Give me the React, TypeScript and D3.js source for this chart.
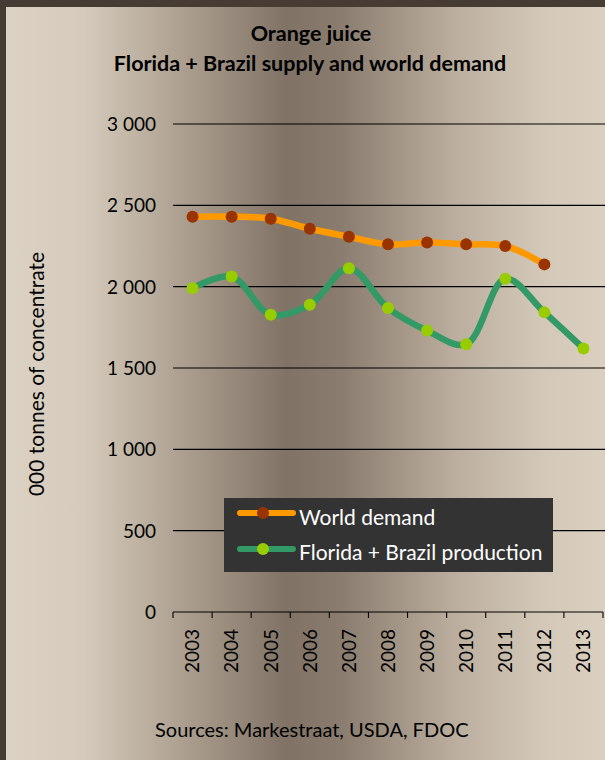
import * as d3 from "d3";

const WIDTH = 605;
const HEIGHT = 760;
const PLOT = { left: 173, right: 603, top: 124, bottom: 612 };

const years = ["2003", "2004", "2005", "2006", "2007", "2008", "2009", "2010", "2011", "2012", "2013"];
const worldDemand = [2430, 2430, 2418, 2356, 2307, 2260, 2272, 2260, 2250, 2137];
const floridaBrazil = [1990, 2062, 1828, 1889, 2113, 1869, 1730, 1646, 2049, 1842, 1620];
const yTicks = [0, 500, 1000, 1500, 2000, 2500, 3000];

const FONT = "Lato, 'Open Sans', sans-serif";

const fmt = d3.formatLocale({
  decimal: ".",
  thousands: " ",
  grouping: [3],
  currency: ["", ""],
}).format(",");

export default function App() {
  const x = d3.scaleBand().domain(years).range([PLOT.left, PLOT.right]).padding(0);
  const y = d3.scaleLinear().domain([0, 3000]).range([PLOT.bottom, PLOT.top]);
  const cx = (yr: string) => (x(yr) ?? 0) + x.bandwidth() / 2;

  const line = d3
    .line<number>()
    .x((_, i) => cx(years[i]))
    .y((d) => y(d))
    .curve(d3.curveCatmullRom.alpha(0.5));

  const tickEdges = years.map((yr) => x(yr) ?? 0).concat([PLOT.right]);

  return (
    <svg
      width={WIDTH}
      height={HEIGHT}
      style={{ position: "absolute", left: 0, top: 0, fontFamily: FONT }}
    >
      <defs>
        <linearGradient id="bg" x1="0" x2="1" y1="0" y2="0">
          <stop offset="0" stopColor="#dcd2c3" />
          <stop offset="0.13" stopColor="#d5cabb" />
          <stop offset="0.3" stopColor="#ab9e8e" />
          <stop offset="0.47" stopColor="#807366" />
          <stop offset="0.56" stopColor="#8a7d6f" />
          <stop offset="0.75" stopColor="#bbae9e" />
          <stop offset="0.9" stopColor="#d4c9b9" />
          <stop offset="1" stopColor="#dbd0c0" />
        </linearGradient>
      </defs>
      <rect x={0} y={0} width={WIDTH} height={HEIGHT} fill="#463c33" />
      <rect x={6} y={7} width={WIDTH - 6} height={HEIGHT - 7} fill="url(#bg)" />

      <text x={311} y={41} textAnchor="middle" fontSize={21.5} fontWeight="bold" fill="#000">
        Orange juice
      </text>
      <text x={310} y={71} textAnchor="middle" fontSize={21.5} fontWeight="bold" fill="#000">
        Florida + Brazil supply and world demand
      </text>

      {yTicks.map((t) => (
        <g key={t}>
          {t > 0 && (
            <line x1={PLOT.left} x2={WIDTH} y1={y(t)} y2={y(t)} stroke="#000" strokeWidth={1.1} />
          )}
          <text x={156} y={y(t)} dy="0.36em" textAnchor="end" fontSize={19} fill="#000">
            {fmt(t)}
          </text>
        </g>
      ))}

      <line x1={PLOT.left} x2={PLOT.right} y1={y(0)} y2={y(0)} stroke="#000" strokeWidth={1.1} />
      {tickEdges.map((e, i) => (
        <line key={i} x1={e} x2={e} y1={y(0)} y2={y(0) + 6} stroke="#000" strokeWidth={1.1} />
      ))}
      {years.map((yr) => (
        <text
          key={yr}
          transform={`translate(${cx(yr)},${y(0) + 17}) rotate(-90)`}
          textAnchor="end"
          dy="0.36em"
          fontSize={19}
          fill="#000"
        >
          {yr}
        </text>
      ))}

      <text
        transform={`translate(36,374) rotate(-90)`}
        textAnchor="middle"
        dy="0.36em"
        fontSize={21}
        fill="#000"
      >
        000 tonnes of concentrate
      </text>

      <path d={line(worldDemand) ?? ""} fill="none" stroke="#ff9900" strokeWidth={6.5} strokeLinecap="round" />
      {worldDemand.map((v, i) => (
        <circle key={i} cx={cx(years[i])} cy={y(v)} r={6} fill="#993300" />
      ))}

      <path d={line(floridaBrazil) ?? ""} fill="none" stroke="#339966" strokeWidth={6.5} strokeLinecap="round" />
      {floridaBrazil.map((v, i) => (
        <circle key={i} cx={cx(years[i])} cy={y(v)} r={6} fill="#99cc00" />
      ))}

      <g>
        <rect x={224} y={498} width={329} height={74} fill="#333333" />
        <line x1={240} x2={293} y1={513} y2={513} stroke="#ff9900" strokeWidth={6} strokeLinecap="round" />
        <circle cx={263} cy={513} r={6} fill="#993300" />
        <text x={299} y={517} dy="0.36em" fontSize={21} fill="#fff">
          World demand
        </text>
        <line x1={240} x2={293} y1={549} y2={549} stroke="#339966" strokeWidth={6} strokeLinecap="round" />
        <circle cx={263} cy={549} r={6} fill="#99cc00" />
        <text x={299} y={552} dy="0.36em" fontSize={21} fill="#fff">
          Florida + Brazil production
        </text>
      </g>

      <text x={155} y={737} fontSize={20} fill="#000">
        Sources: Markestraat, USDA, FDOC
      </text>
    </svg>
  );
}
